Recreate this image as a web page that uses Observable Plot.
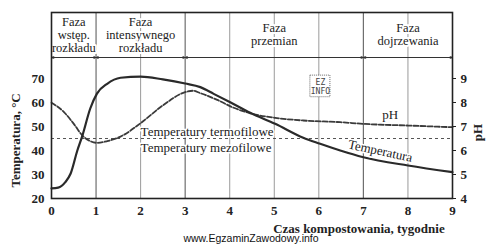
<!DOCTYPE html>
<html>
<head>
<meta charset="utf-8">
<script src="https://cdn.jsdelivr.net/npm/d3@7"></script>
<script src="https://cdn.jsdelivr.net/npm/@observablehq/plot@0.6"></script>
<style>
  html, body { margin: 0; padding: 0; background: #fff; }
  svg { display: block; }
</style>
</head>
<body>
<div id="chart"></div>
<script>
// ---- data ----
const tempWeeks = [0, 0.15, 0.31, 0.43, 0.58, 0.69, 0.87, 1.02, 1.25, 1.55, 2.0, 2.5, 3.0, 3.34, 3.64, 4.01, 4.46, 5.02, 5.65, 6.03, 6.48, 7.0, 8.0, 9.0];
const tempValues = [24.2, 24.5, 26.8, 30.4, 40, 46, 57.5, 63.7, 67.8, 70.3, 70.8, 69.6, 67.9, 66.4, 63.6, 60.1, 55.7, 51.1, 45.3, 42.8, 40.0, 37.2, 33.75, 31.0];

const phWeeks = [0, 0.28, 0.5, 0.69, 0.87, 1.02, 1.25, 1.55, 2.0, 2.5, 3.0, 3.18, 3.34, 3.72, 4.09, 4.46, 5.02, 5.65, 6.48, 7.0, 8.0, 9.0];
const phValues = [7.99, 7.6, 7.11, 6.63, 6.39, 6.32, 6.39, 6.58, 7.14, 7.88, 8.43, 8.49, 8.39, 8.11, 7.78, 7.55, 7.36, 7.25, 7.18, 7.11, 7.04, 6.97];

const weekTicks = [0, 1, 2, 3, 4, 5, 6, 7, 8, 9];
const tempTicks = [20, 30, 40, 50, 60, 70];
const phTicks = [4, 5, 6, 7, 8, 9];
const phaseBounds = [1, 3, 7];
const otherGrid = [2, 4, 5, 6, 8];
const phaseNames = ["Faza\nwstęp.\nrozkładu", "Faza\nintensywnego\nrozkładu", "Faza\nprzemian", "Faza\ndojrzewania"];
const phaseCenters = [0.5, 2, 5, 8];
const thermoLimit = 45;

// pH is drawn on the temperature scale: pH 4 ↔ 20 °C, pH 9 ↔ 70 °C
const phToT = p => 20 + (p - 4) * 10;

const tempData = tempWeeks.map((w, i) => ({w, t: tempValues[i]}));
const phData = phWeeks.map((w, i) => ({w, t: phToT(phValues[i])}));
const phases = phaseNames.map((name, i) => ({name, w: phaseCenters[i]}));

const serif = "'Liberation Serif', 'Times New Roman', serif";
const bandY = 78.75, yTop = 97.5;

const chart = Plot.plot({
  width: 494,
  height: 246,
  marginLeft: 51,
  marginRight: 42,
  marginTop: 12,
  marginBottom: 48,
  style: {fontFamily: serif, background: "#fff", color: "#222"},
  x: {domain: [0, 9]},
  y: {domain: [20, yTop]},
  marks: [
    // grid
    Plot.ruleX(otherGrid, {y1: 20, y2: yTop, stroke: "#9a9a9a", strokeWidth: 1}),
    Plot.ruleX(phaseBounds, {y1: 20, y2: yTop, stroke: "#6e6e6e", strokeWidth: 1.2}),
    Plot.ruleY([bandY], {stroke: "#333", strokeWidth: 1.2}),
    Plot.dot([0.04, 0.96, 1.04, 2.96, 3.04, 6.96, 7.04, 8.96], {x: d => d, y: bandY, r: 1.3, fill: "#333", stroke: null}),
    Plot.ruleY([thermoLimit], {stroke: "#555", strokeWidth: 1, strokeDasharray: "3,3"}),
    // phase labels
    Plot.text(phases, {x: "w", y: 88.3, text: "name", fontSize: 12.5, lineHeight: 1.05, fill: "#222", stroke: "white", strokeWidth: 4, paintOrder: "stroke"}),
    // curves
    Plot.line(phData, {x: "w", y: "t", curve: "monotone-x", stroke: "#3a3a3a", strokeWidth: 1.8, strokeDasharray: "5,2"}),
    Plot.line(tempData, {x: "w", y: "t", curve: "monotone-x", stroke: "#2a2a2a", strokeWidth: 2.2}),
    // annotations
    Plot.text(["Temperatury termofilowe"], {x: 2.0, y: 47.8, text: d => d, textAnchor: "start", fontSize: 13, fill: "#222", stroke: "white", strokeWidth: 3, paintOrder: "stroke"}),
    Plot.text(["Temperatury mezofilowe"], {x: 2.0, y: 41.0, text: d => d, textAnchor: "start", fontSize: 13, fill: "#222", stroke: "white", strokeWidth: 3, paintOrder: "stroke"}),
    Plot.text(["pH"], {x: 7.6, y: 54.7, text: d => d, fontSize: 13, fill: "#222", stroke: "white", strokeWidth: 3, paintOrder: "stroke"}),
    Plot.text(["Temperatura"], {x: 7.38, y: 39.8, text: d => d, fontSize: 13, rotate: 12, fill: "#222", stroke: "white", strokeWidth: 3, paintOrder: "stroke"}),
    // EZ INFO stamp
    Plot.rect([0], {x1: 5.81, x2: 6.26, y1: 62.2, y2: 71.2, fill: "white", stroke: "#444", strokeWidth: 0.8, strokeDasharray: "1,1"}),
    Plot.text(["EZ\nINFO"], {x: 6.035, y: 66.7, text: d => d, fontSize: 8, lineHeight: 1.1, fontFamily: "'DejaVu Sans Mono', monospace", fill: "#444"}),
    // frame and axes
    Plot.frame({stroke: "#222", strokeWidth: 1.6}),
    Plot.axisY({ticks: tempTicks, tickSize: 0, tickPadding: 7, fontSize: 13, fontWeight: "bold", label: null}),
    Plot.axisY({anchor: "right", ticks: phTicks.map(phToT), tickFormat: d => String((d - 20) / 10 + 4), tickSize: 3, tickPadding: 5, fontSize: 13, fontWeight: "bold", label: null}),
    Plot.axisX({ticks: weekTicks, tickSize: 0, tickPadding: 7, fontSize: 13, fontWeight: "bold", label: null}),
    // axis titles
    Plot.text(["Temperatura, °C"], {x: -0.81, y: 44.2, text: d => d, rotate: -90, fontSize: 13, fontWeight: "bold", fill: "#222", clip: false}),
    Plot.text(["pH"], {x: 9.57, y: 47.5, text: d => d, rotate: -90, fontSize: 13, fontWeight: "bold", fill: "#222"}),
    Plot.text(["Czas kompostowania, tygodnie"], {x: 6.9, y: 7.5, text: d => d, fontSize: 13, fontWeight: "bold", fill: "#222"}),
    Plot.text(["www.EgzaminZawodowy.info"], {x: 2.96, y: 3.2, text: d => d, textAnchor: "start", fontSize: 10.5, fontFamily: "'Liberation Sans', Arial, sans-serif", fill: "#111"})
  ]
});
document.getElementById("chart").append(chart);
</script>
</body>
</html>
